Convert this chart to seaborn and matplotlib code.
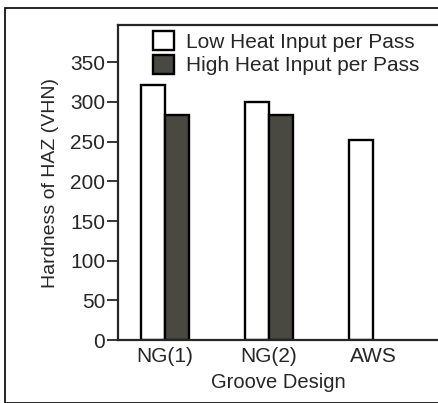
import numpy as np
import pandas as pd
from matplotlib import pyplot as plt
from matplotlib.patches import Rectangle
import seaborn as sns

# values
grooves = ['NG(1)', 'NG(2)', 'AWS']
low_heat = [321, 300, 252]
high_heat = [283, 283, np.nan]
series = ['Low Heat Input per Pass', 'High Heat Input per Pass']

df = pd.DataFrame({
    'Groove': grooves * 2,
    'Hardness': low_heat + high_heat,
    'Input': [series[0]] * 3 + [series[1]] * 3,
})

sns.set_style('ticks')
plt.rcParams['font.family'] = ['Liberation Sans', 'DejaVu Sans']

fig = plt.figure(figsize=(4.38, 4.03), dpi=100)
ax = fig.add_axes([0.269, 0.156, 0.731, 0.782])

sns.barplot(data=df, x='Groove', y='Hardness', hue='Input', order=grooves,
            hue_order=series, palette=['white', '#4a4a40'], width=0.46,
            edgecolor='black', linewidth=1.7, ax=ax, legend=True)

ax.set_xlim(-0.45, 2.62)
ax.set_ylim(0, 397)
ax.set_yticks(range(0, 351, 50))
ax.tick_params(axis='y', length=8, width=1.3, labelsize=15, direction='out', pad=1)
ax.tick_params(axis='x', length=0, labelsize=15, pad=5)
ax.set_xlabel('Groove Design', fontsize=14.5, labelpad=5)
ax.set_ylabel('Hardness of HAZ (VHN)', fontsize=14, labelpad=8)
for s in ax.spines.values():
    s.set_linewidth(1.6)
ax.spines['right'].set_visible(False)

leg = ax.legend(loc='upper left', bbox_to_anchor=(0.11, 0.98), frameon=False,
                fontsize=15, handlelength=1.0, handleheight=1.0,
                handletextpad=0.6, labelspacing=0.15, borderaxespad=0,
                borderpad=0)

fig.patches.append(Rectangle((0.012, 0.0), 0.99, 0.98, transform=fig.transFigure,
                             fill=False, edgecolor='black', linewidth=1.2))

fig.savefig('out.png', dpi=100)
